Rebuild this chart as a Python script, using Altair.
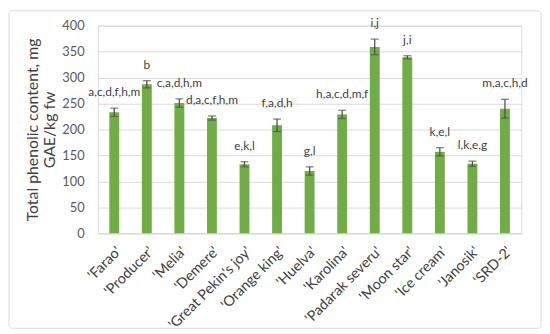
import altair as alt
import pandas as pd

cultivars = ["'Farao'", "'Producer'", "'Melia'", "'Demere'", "'Great Pekin's joy'",
             "'Orange king'", "'Huelva'", "'Karolina'", "'Padarak severu'", "'Moon star'",
             "'Ice cream'", "'Janosik'", "'SRD-2'"]
values = [233, 287, 251, 222, 133, 208, 120, 229, 359, 339, 157, 134, 240]
errors = [8, 7, 8, 4, 5, 12, 8, 8, 15, 3, 8, 5, 18]
letters = ["a,c,d,f,h,m", "b", "c,a,d,h,m", "d,a,c,f,h,m", "e,k,l", "f,a,d,h", "g,l",
           "h,a,c,d,m,f", "i,j", "j,i", "k,e,l", "l,k,e,g", "m,a,c,h,d"]

df = pd.DataFrame({"cultivar": cultivars, "value": values, "err": errors, "label": letters})
df["lo"] = df["value"] - df["err"]
df["hi"] = df["value"] + df["err"]

W, H = 428, 210
FONT = "Lato"

xaxis = alt.Axis(labelAngle=-45, labelFontSize=14.5, labelColor="#404040",
                 domainColor="#d9d9d9", ticks=False, labelPadding=11, labelFont=FONT)
yaxis = alt.Axis(values=[0, 50, 100, 150, 200, 250, 300, 350, 400], domain=False, ticks=False,
                 gridColor="#d9d9d9", labelFontSize=13, labelColor="#595959",
                 titleFontSize=16, titleFontWeight="normal", titleColor="#404040",
                 labelPadding=14, titlePadding=4, labelFont=FONT, titleFont=FONT)
ytitle = ["Total phenolic content,  mg", "GAE/kg fw"]
yscale = alt.Scale(domain=[0, 400])

def X():
    return alt.X("cultivar:N", sort=cultivars, title=None, axis=xaxis)

def Y(field):
    return alt.Y(field, scale=yscale, title=ytitle, axis=yaxis)

base = alt.Chart(df)
bars = base.mark_bar(color="#70AD47", width=10).encode(x=X(), y=Y("value:Q"))
err = base.mark_errorbar(ticks=alt.TickConfig(size=8, thickness=1.3), color="#505050", thickness=1.3).encode(
    x=X(), y=Y("lo:Q"), y2="hi:Q")
txt = base.mark_text(dy=-9, fontSize=12, color="#404040", font=FONT, baseline="bottom").encode(
    x=X(), y=Y("hi:Q"), text="label:N")
border = alt.Chart(pd.DataFrame({"a": [0]})).mark_rect(
    fill=None, stroke="#d9d9d9", strokeWidth=1, cornerRadius=3).encode(
    x=alt.value(-90), x2=alt.value(W + 20), y=alt.value(-15), y2=alt.value(H + 96))

chart = alt.layer(border, bars, err, txt).properties(
    width=W, height=H, padding=0
).configure_view(stroke=None).configure(background="white")

chart.save("out.html", embed_options={"renderer": "svg", "actions": False})
